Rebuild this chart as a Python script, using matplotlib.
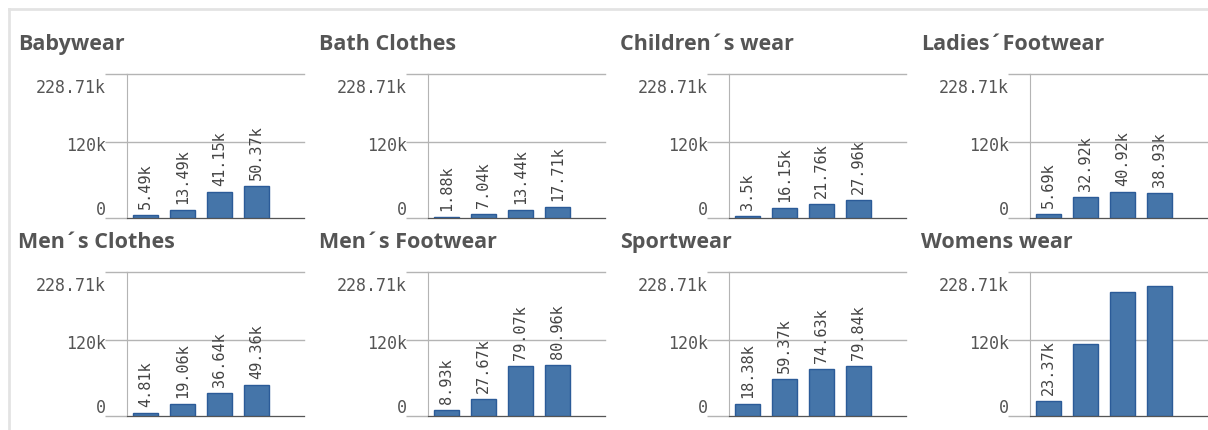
import os
import matplotlib
matplotlib.use("Agg")
import matplotlib.pyplot as plt
from matplotlib.lines import Line2D
from matplotlib.font_manager import FontProperties

# Sales per product group, four periods each (values in thousands)
categories = ["Babywear", "Bath Clothes", "Children\u00b4s wear", "Ladies\u00b4Footwear",
              "Men\u00b4s Clothes", "Men\u00b4s Footwear", "Sportwear", "Womens wear"]
babywear = [5.49, 13.49, 41.15, 50.37]
bath_clothes = [1.88, 7.04, 13.44, 17.71]
childrens_wear = [3.5, 16.15, 21.76, 27.96]
ladies_footwear = [5.69, 32.92, 40.92, 38.93]
mens_clothes = [4.81, 19.06, 36.64, 49.36]
mens_footwear = [8.93, 27.67, 79.07, 80.96]
sportwear = [18.38, 59.37, 74.63, 79.84]
womens_wear = [23.37, 113.6, 196.5, 206.5]
series = [babywear, bath_clothes, childrens_wear, ladies_footwear,
          mens_clothes, mens_footwear, sportwear, womens_wear]
y_ticks = [0, 120, 228.71]
y_tick_labels = ["0", "120k", "228.71k"]

W, H = 1208, 431
fig = plt.figure(figsize=(W / 100, H / 100), dpi=100)
fig.patch.set_facecolor("white")

BAR = "#4575a9"
EDGE = "#2b5b98"
GRID = "#b4b4b4"
TEXT = "#555555"

# monospaced face bundled with matplotlib
mono_path = os.path.join(matplotlib.get_data_path(), "fonts", "ttf", "DejaVuSansMono.ttf")
tick_font = FontProperties(fname=mono_path, size=12)
value_font = FontProperties(fname=mono_path, size=11)

# light outer frame
fig.add_artist(Line2D([9 / W, 1.0], [1 - 10 / H, 1 - 10 / H], transform=fig.transFigure,
                      color="#e3e3e3", lw=2))
fig.add_artist(Line2D([9 / W, 9 / W], [0, 1 - 10 / H], transform=fig.transFigure,
                      color="#e3e3e3", lw=2))

for i, (name, vals) in enumerate(zip(categories, series)):
    r, c = divmod(i, 4)
    left = 127 + 301 * c
    top = 75 + 198 * r
    width, height = 177, 144
    ax = fig.add_axes([left / W, 1 - (top + height) / H, width / W, height / H])
    x = list(range(len(vals)))
    ax.bar(x, vals, width=0.7, color=BAR, edgecolor=EDGE, linewidth=1, zorder=3)
    ax.set_xlim(-0.5, -0.5 + width / 37)
    ax.set_ylim(y_ticks[0], y_ticks[-1])

    for s in ("top", "right"):
        ax.spines[s].set_visible(False)
    ax.spines["left"].set_color(GRID)
    ax.spines["bottom"].set_color("#555555")
    ax.spines["bottom"].set_zorder(4)
    ax.set_xticks([])
    ax.set_yticks(y_ticks)
    ax.set_yticklabels([])
    ax.tick_params(axis="y", length=16, width=1, color=GRID)
    ax.yaxis.grid(True, color=GRID, lw=1, zorder=0)
    ax.set_axisbelow(True)
    for gl in ax.get_ygridlines():
        gl.set_clip_on(False)

    # y tick labels: top one hangs below its line, bottom one sits above
    offs = [4, -8, -18]
    for yv, lab, dy in zip(y_ticks, y_tick_labels, offs):
        ax.annotate(lab, xy=(0, yv), xycoords=("axes fraction", "data"),
                    xytext=(-21, dy), textcoords="offset pixels",
                    ha="right", va="baseline", fontproperties=tick_font, color=TEXT)

    # value labels above bars that leave enough room
    for xi, v in zip(x, vals):
        if v < 100:
            ax.annotate(f"{v:g}k", xy=(xi, v), xytext=(0, 7), textcoords="offset pixels",
                        rotation=90, ha="center", va="bottom", fontproperties=value_font,
                        color="#444444")

    fig.text((18 + 301 * c) / W, 1 - (50 + 198 * r) / H, name, fontsize=15.5,
             fontweight="bold", family="Open Sans", color=TEXT, ha="left", va="baseline")

fig.savefig("out.png", dpi=100)
